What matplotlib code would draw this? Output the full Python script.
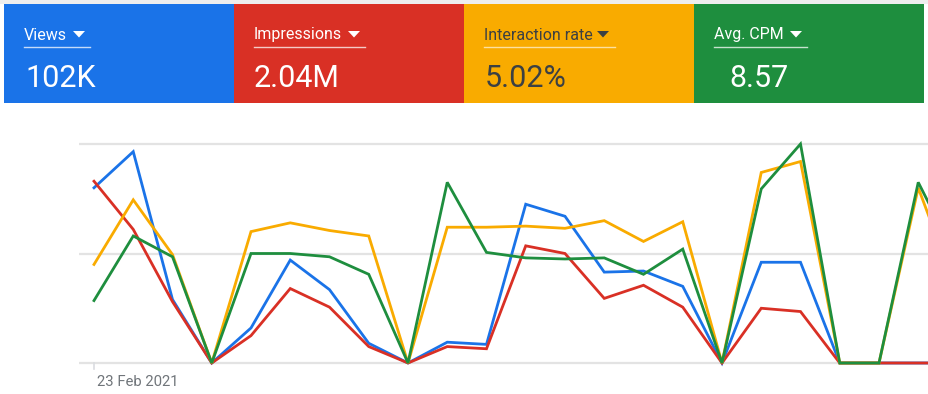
import numpy as np
import matplotlib.pyplot as plt
from matplotlib.patches import Rectangle, Polygon
from matplotlib.lines import Line2D

plt.rcParams['font.family'] = ['Roboto', 'DejaVu Sans']

W, H = 929, 394

# metric tiles
metric_names = ["Views", "Impressions", "Interaction rate", "Avg. CPM"]
metric_values = ["102K", "2.04M", "5.02%", "8.57"]
tile_colors = ["#1a73e8", "#d93025", "#f9ab00", "#1e8e3e"]
text_colors = ["white", "white", "#3c4043", "white"]

# daily series (relative scale, gridlines at 0, 1, 2)
views = [1.60, 1.93, 0.58, 0.0, 0.32, 0.94, 0.67, 0.18, 0.0, 0.19, 0.17, 1.45, 1.34,
         0.83, 0.84, 0.70, 0.0, 0.92, 0.92, 0.0, 0.0, 0.0, 0.0]
impressions = [1.66, 1.22, 0.56, 0.0, 0.25, 0.68, 0.51, 0.15, 0.0, 0.15, 0.13, 1.07, 1.00,
               0.59, 0.71, 0.51, 0.0, 0.50, 0.47, 0.0, 0.0, 0.0, 0.0]
interaction = [0.90, 1.49, 0.99, 0.0, 1.20, 1.28, 1.21, 1.16, 0.0, 1.24, 1.24, 1.25, 1.23,
               1.30, 1.11, 1.29, 0.0, 1.74, 1.84, 0.0, 0.0, 1.60, 0.64]
avg_cpm = [0.57, 1.16, 0.97, 0.0, 1.00, 1.00, 0.97, 0.81, 0.0, 1.65, 1.01, 0.96, 0.95,
           0.96, 0.81, 1.04, 0.0, 1.59, 2.00, 0.0, 0.0, 1.65, 0.94]
start_label = "23 Feb 2021"


def fx(px):
    return px / W


def fy(py):
    return 1 - py / H


fig = plt.figure(figsize=(W / 100, H / 100), dpi=100)
fig.patch.set_facecolor("white")

# top strip
fig.add_artist(Rectangle((0, fy(4)), 1, 4 / H, transform=fig.transFigure,
                         facecolor="#eeeeee", edgecolor="none"))

tile_x = [4, 234, 464, 694]
label_x = [24, 254, 484, 714]
value_x = [25, 254, 485, 729]
under_w = [66, 111, 131, 93]
tri_x = [79, 354, 603, 796]
for i in range(4):
    fig.add_artist(Rectangle((fx(tile_x[i]), fy(103)), fx(230), 99 / H,
                             transform=fig.transFigure,
                             facecolor=tile_colors[i], edgecolor="none"))
    c = text_colors[i]
    fig.text(fx(label_x[i]), fy(39.5), metric_names[i], color=c, fontsize=11.5,
             ha="left", va="baseline")
    fig.add_artist(Polygon([(fx(tri_x[i] - 6), fy(31)), (fx(tri_x[i] + 6), fy(31)),
                            (fx(tri_x[i]), fy(37.5))], closed=True,
                           transform=fig.transFigure, facecolor=c, edgecolor="none"))
    uc = "white" if i != 2 else "#fff3d6"
    fig.add_artist(Line2D([fx(label_x[i]), fx(label_x[i] + under_w[i])], [fy(47), fy(47)],
                          transform=fig.transFigure, color=uc, lw=1.0, alpha=0.75))
    fig.text(fx(value_x[i]), fy(87), metric_values[i], color=c, fontsize=22,
             ha="left", va="baseline")

# chart area: value 0 at y=363px, 2 at y=144px, index 0 at x=94px, step 39.25px
ax = fig.add_axes([fx(79), fy(368), fx(929 - 79), (368 - 118) / H])
x = np.arange(len(views))
ax.set_xlim(-15 / 39.25, (929 - 94) / 39.25)
ax.set_ylim(-5 / 109.5, 245 / 109.5)

for v in [0, 1, 2]:
    ax.axhline(v, color="#e3e3e3", lw=1.6, zorder=0)

series = [views, impressions, interaction, avg_cpm]
for s, col in zip(series, tile_colors):
    ax.plot(x, s, color=col, lw=2.0, solid_joinstyle="miter", zorder=2)

for sp in ax.spines.values():
    sp.set_visible(False)
ax.set_yticks([])
ax.set_xticks([0])
ax.set_xticklabels([""])
ax.tick_params(axis="x", length=0)
ax.plot([0, 0], [0, -0.055], color="#dadce0", lw=1.2, clip_on=False)
ax.annotate(start_label, xy=(0, 0), xycoords="data", xytext=(2.5, -13.5),
            textcoords="offset points", ha="left", va="center",
            color="#70757a", fontsize=10.7, annotation_clip=False)

fig.savefig("out.png", dpi=100)
